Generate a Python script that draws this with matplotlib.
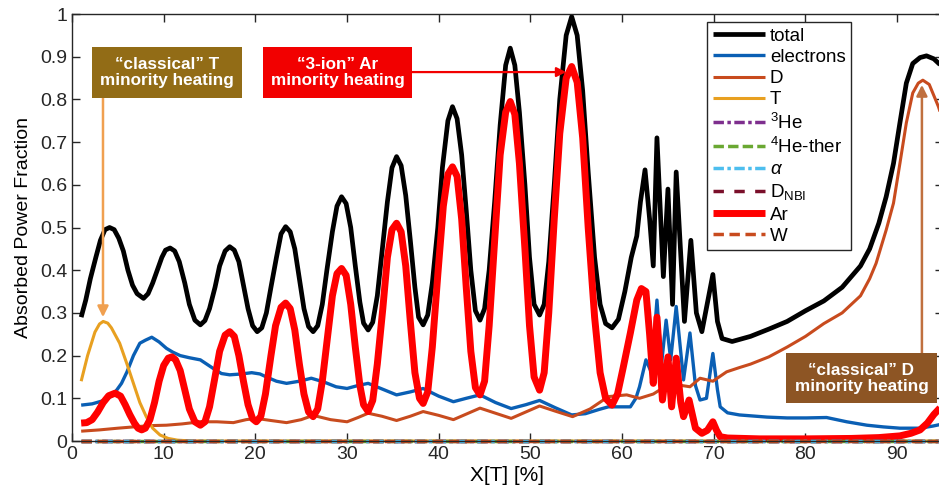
import matplotlib
matplotlib.use("Agg")
import matplotlib.pyplot as plt
from matplotlib.patches import Rectangle

plt.rcParams['font.family'] = ['Liberation Sans', 'DejaVu Sans']
plt.rcParams['mathtext.fontset'] = 'custom'
plt.rcParams['mathtext.rm'] = 'Liberation Sans'
plt.rcParams['mathtext.it'] = 'Liberation Sans:italic'
plt.rcParams['mathtext.bf'] = 'Liberation Sans:bold'

# total absorbed power
total_x = [1.0, 1.5, 2.0, 2.6, 3.1, 3.6, 4.1, 4.6, 5.1, 5.6, 6.1, 6.6, 7.1, 7.8,
           8.3, 8.8, 9.3, 9.8, 10.2, 10.7, 11.2, 11.7, 12.3, 12.8, 13.4, 14.0,
           14.5, 15.0, 15.6, 16.1, 16.7, 17.2, 17.7, 18.2, 18.7, 19.2, 19.7, 20.2,
           20.7, 21.2, 21.7, 22.3, 22.8, 23.3, 23.8, 24.3, 24.8, 25.3, 25.8, 26.3,
           26.8, 27.3, 27.8, 28.4, 28.9, 29.4, 29.9, 30.4, 30.9, 31.4, 31.8, 32.3,
           32.8, 33.3, 33.8, 34.4, 34.9, 35.4, 35.9, 36.4, 36.9, 37.4, 37.8, 38.3,
           38.8, 39.3, 39.9, 40.4, 41.0, 41.5, 42.0, 42.5, 43.0, 43.5, 44.0, 44.5,
           45.0, 45.5, 46.1, 46.7, 47.3, 47.8, 48.3, 48.8, 49.4, 49.9, 50.4, 51.0,
           51.5, 52.0, 52.6, 53.2, 53.9, 54.5, 55.1, 55.7, 56.3, 57.0, 57.6, 58.2, 58.9,
           59.6, 60.3, 61.0, 61.6, 62.0, 62.5, 63.0, 63.4, 63.8, 64.5, 65.0, 65.5, 65.9,
           66.8, 67.5, 68.1, 68.7, 69.9, 70.4, 70.9, 72.0, 74.0, 76.0, 78.0, 80.0,
           82.0, 84.0, 85.0, 86.0, 87.0, 88.0, 88.8, 89.6, 90.3, 91.0, 91.7, 92.5, 93.2, 94.0, 95.0]
total_y = [0.29, 0.33, 0.38, 0.43, 0.47, 0.495, 0.50, 0.495, 0.475, 0.445, 0.40, 0.365, 0.345, 0.334,
           0.345, 0.37, 0.40, 0.43, 0.447, 0.452, 0.445, 0.42, 0.37, 0.32, 0.283, 0.272,
           0.282, 0.31, 0.36, 0.41, 0.445, 0.455, 0.447, 0.42, 0.365, 0.31, 0.27, 0.256,
           0.265, 0.30, 0.36, 0.43, 0.485, 0.502, 0.49, 0.45, 0.38, 0.31, 0.268, 0.256,
           0.27, 0.32, 0.40, 0.49, 0.55, 0.572, 0.556, 0.50, 0.41, 0.325, 0.276, 0.26,
           0.278, 0.34, 0.44, 0.56, 0.64, 0.666, 0.645, 0.575, 0.47, 0.36, 0.29, 0.272,
           0.295, 0.37, 0.50, 0.64, 0.75, 0.783, 0.755, 0.67, 0.54, 0.40, 0.305, 0.283,
           0.31, 0.40, 0.56, 0.74, 0.88, 0.92, 0.88, 0.77, 0.60, 0.43, 0.32, 0.295,
           0.32, 0.42, 0.60, 0.80, 0.95, 0.994, 0.95, 0.82, 0.63, 0.43, 0.32, 0.275, 0.265,
           0.285, 0.35, 0.43, 0.48, 0.56, 0.635, 0.52, 0.41, 0.71, 0.385, 0.59, 0.32, 0.63,
           0.28, 0.47, 0.30, 0.256, 0.39, 0.28, 0.24, 0.233, 0.245, 0.262, 0.28, 0.305,
           0.328, 0.36, 0.385, 0.41, 0.45, 0.51, 0.572, 0.65, 0.745, 0.838, 0.884, 0.898, 0.902, 0.895, 0.875]

# electrons
el_x = [1.0, 2.2, 3.5, 4.3, 4.9, 5.4, 6.0, 6.7, 7.4, 8.0, 8.7, 9.5, 10.3, 11.0, 11.8, 12.8, 14.0, 15.4, 16.3,
        17.2, 18.5, 19.6, 20.5, 21.2, 22.3, 23.4, 24.8, 26.1, 27.5, 28.8, 30.0, 31.2, 32.3, 33.8, 35.4,
        36.9, 38.3, 40.0, 41.6, 43.0, 44.5, 46.2, 47.9, 49.5, 51.0, 52.7, 54.5, 56.0, 57.5, 58.5, 60.9,
        61.5, 61.9, 62.6, 63.2, 63.8, 64.3, 64.8, 65.3, 65.9, 66.7, 67.4, 68.0, 68.5, 69.2, 69.9, 70.4,
        70.7, 71.5, 72.8, 75.8, 78.0, 80.1, 82.3, 84.5, 86.7, 88.5, 90.3, 92.5, 93.9, 95.0]
el_y = [0.084, 0.087, 0.095, 0.105, 0.12, 0.135, 0.162, 0.2, 0.229, 0.236, 0.243, 0.232, 0.217, 0.208, 0.2, 0.195, 0.19, 0.17, 0.158,
        0.155, 0.157, 0.16, 0.157, 0.15, 0.14, 0.135, 0.14, 0.147, 0.138, 0.127, 0.123, 0.13, 0.135, 0.122, 0.108,
        0.115, 0.123, 0.105, 0.092, 0.1, 0.108, 0.09, 0.076, 0.085, 0.095, 0.078, 0.061, 0.064, 0.074, 0.08, 0.08,
        0.1, 0.127, 0.19, 0.16, 0.33, 0.18, 0.283, 0.19, 0.315, 0.143, 0.253, 0.13, 0.096, 0.1, 0.205, 0.12,
        0.08, 0.066, 0.061, 0.056, 0.054, 0.054, 0.055, 0.045, 0.037, 0.033, 0.03, 0.03, 0.035, 0.04]

# D
d_x = [1.0, 3.0, 5.0, 6.7, 8.5, 10.3, 12.0, 14.0, 15.8, 17.6, 19.0, 20.1, 21.7, 23.4, 25.0, 26.3, 28.2, 30.0,
       31.2, 32.3, 33.8, 35.4, 36.9, 38.3, 40.0, 41.6, 43.0, 44.5, 46.2, 47.9, 49.5, 51.0, 52.7, 54.6, 56.5,
       58.5, 60.5, 61.9, 63.4, 64.5, 65.6, 66.5, 67.4, 68.5, 69.9, 71.4, 72.8, 74.0, 76.0, 78.0, 80.0, 82.0,
       84.0, 85.0, 86.0, 87.0, 87.7, 88.8, 89.6, 90.3, 91.0, 91.7, 92.3, 92.8, 93.5, 94.5, 95.0]
d_y = [0.023, 0.026, 0.03, 0.033, 0.036, 0.037, 0.04, 0.045, 0.045, 0.043, 0.05, 0.053, 0.048, 0.043, 0.05, 0.06, 0.05, 0.045,
       0.055, 0.065, 0.058, 0.048, 0.058, 0.069, 0.06, 0.05, 0.063, 0.077, 0.065, 0.053, 0.068, 0.082, 0.07, 0.057, 0.075,
       0.104, 0.108, 0.1, 0.11, 0.125, 0.135, 0.13, 0.127, 0.147, 0.14, 0.162, 0.172, 0.18, 0.197, 0.22, 0.245, 0.275,
       0.3, 0.32, 0.34, 0.38, 0.416, 0.494, 0.557, 0.65, 0.745, 0.815, 0.838, 0.845, 0.835, 0.783, 0.75]

# T
t_x = [1.0, 1.7, 2.5, 3.0, 3.4, 3.9, 4.3, 5.2, 6.0, 6.7, 7.4, 8.1, 8.8, 9.6, 10.5, 11.5, 13.0, 95.0]
t_y = [0.14, 0.2, 0.255, 0.274, 0.28, 0.276, 0.265, 0.229, 0.18, 0.135, 0.09, 0.057, 0.03, 0.014, 0.006, 0.002, 0.0, 0.0]

# Ar
ar_x = [1.0, 1.6, 2.2, 2.8, 3.4, 4.0, 4.7, 5.3, 5.8, 6.3, 6.8, 7.2, 7.6,
        8.0, 8.5, 9.0, 9.5, 10.0, 10.5, 10.9, 11.3, 11.8, 12.3, 12.8, 13.4, 14.0,
        14.5, 15.0, 15.6, 16.1, 16.7, 17.2, 17.7, 18.2, 18.7, 19.2, 19.7, 20.1,
        20.6, 21.1, 21.7, 22.2, 22.8, 23.3, 23.8, 24.3, 24.8, 25.3, 25.8, 26.3,
        26.8, 27.3, 27.9, 28.4, 28.9, 29.4, 29.9, 30.4, 30.9, 31.4, 31.8, 32.3,
        32.8, 33.3, 33.9, 34.4, 34.9, 35.4, 35.9, 36.4, 36.9, 37.4, 37.9, 38.3,
        38.8, 39.3, 39.9, 40.5, 41.0, 41.5, 42.0, 42.5, 43.0, 43.5, 44.0, 44.5,
        45.0, 45.5, 46.1, 46.7, 47.3, 47.8, 48.3, 48.8, 49.4, 49.9, 50.4, 51.0,
        51.5, 52.0, 52.6, 53.2, 53.9, 54.5, 55.1, 55.7, 56.3, 57.0, 57.6, 58.2, 58.9,
        59.5, 60.1, 60.9, 61.6, 62.1, 62.6, 63.0, 63.4, 63.8, 64.4, 65.0, 65.4, 65.9, 66.4,
        66.7, 67.3, 68.0, 68.7, 69.3, 69.9, 70.3, 70.7, 71.5, 75.0, 80.0, 85.0, 88.0, 90.3,
        91.5, 92.5, 93.3, 94.0, 95.0]
ar_y = [0.042, 0.043, 0.05, 0.068, 0.09, 0.106, 0.112, 0.105, 0.085, 0.062, 0.042, 0.03, 0.026,
        0.03, 0.05, 0.09, 0.14, 0.177, 0.194, 0.197, 0.19, 0.165, 0.12, 0.075, 0.045, 0.037,
        0.045, 0.08, 0.15, 0.21, 0.248, 0.256, 0.245, 0.2, 0.14, 0.085, 0.052, 0.045,
        0.058, 0.11, 0.2, 0.27, 0.313, 0.323, 0.31, 0.26, 0.18, 0.11, 0.068, 0.057,
        0.075, 0.14, 0.25, 0.34, 0.392, 0.404, 0.388, 0.32, 0.22, 0.13, 0.085, 0.069,
        0.095, 0.18, 0.31, 0.43, 0.495, 0.51, 0.49, 0.41, 0.28, 0.16, 0.1, 0.088,
        0.115, 0.22, 0.39, 0.55, 0.625, 0.642, 0.62, 0.52, 0.36, 0.21, 0.125, 0.108,
        0.14, 0.27, 0.47, 0.67, 0.77, 0.795, 0.765, 0.65, 0.45, 0.27, 0.15, 0.119,
        0.16, 0.3, 0.52, 0.72, 0.85, 0.877, 0.84, 0.71, 0.5, 0.29, 0.16, 0.1, 0.084,
        0.11, 0.17, 0.253, 0.33, 0.357, 0.35, 0.25, 0.135, 0.29, 0.096, 0.197, 0.08, 0.194, 0.09,
        0.057, 0.096, 0.03, 0.018, 0.025, 0.045, 0.025, 0.01, 0.007, 0.005, 0.005, 0.006, 0.008, 0.012,
        0.018, 0.026, 0.042, 0.062, 0.085]

# species with no absorption
zero_x = [1.0, 95.0]
zero_y = [0.0, 0.0]

yticks = [0, 0.1, 0.2, 0.3, 0.4, 0.5, 0.6, 0.7, 0.8, 0.9, 1]
ytick_labels = ['0', '0.1', '0.2', '0.3', '0.4', '0.5', '0.6', '0.7', '0.8', '0.9', '1']
xticks = [0, 10, 20, 30, 40, 50, 60, 70, 80, 90]

fig = plt.figure(figsize=(9.39, 4.97), dpi=100)
ax = fig.add_axes([72/939, 56/497, 871/939, 427/497])

rnd = dict(solid_joinstyle='round', solid_capstyle='butt')
ax.plot(total_x, total_y, color='black', lw=3.4, label='total', **rnd)
ax.plot(el_x, el_y, color='#0a5fb4', lw=2.4, label='electrons', **rnd)
ax.plot(d_x, d_y, color='#c84b1e', lw=2.2, label='D', **rnd)
ax.plot(t_x, t_y, color='#e8a020', lw=2.2, label='T', clip_on=False, **rnd)
ax.plot(zero_x, zero_y, color='#7e2f8e', lw=2.5, ls=(0, (3, 1, 1, 1)), label=r'$^{3}$He', clip_on=False, zorder=2.1)
ax.plot(zero_x, zero_y, color='#6aa832', lw=2.5, ls=(0, (3, 1.2)), label=r'$^{4}$He-ther', clip_on=False, zorder=2.2)
ax.plot(zero_x, zero_y, color='#4dbeee', lw=2.5, ls=(0, (3, 1, 1, 1)), label=r'$\alpha$', clip_on=False, zorder=2.4)
ax.plot(zero_x, zero_y, color='#7a0f2a', lw=2.5, ls=(0, (3, 3)), label=r'D$_{\rm NBI}$', clip_on=False, zorder=2.3)
ax.plot(ar_x, ar_y, color='#ff0000', lw=5.0, label='Ar', **rnd)
ax.plot(zero_x, zero_y, color='#c84b1e', lw=2.5, ls=(0, (3, 1.6)), label='W', clip_on=False, zorder=2.5)

ax.set_xlim(0, 95)
ax.set_ylim(0, 1)
ax.set_xticks(xticks)
ax.set_yticks(yticks)
ax.set_yticklabels(ytick_labels)
ax.tick_params(direction='in', top=True, right=True, length=6, width=1, labelsize=14, colors='#262626')
for sp in ax.spines.values():
    sp.set_linewidth(1.0)
    sp.set_color('#262626')
ax.set_xlabel('X[T] [%]', fontsize=15, labelpad=2)
ax.set_ylabel('Absorbed Power Fraction', fontsize=14, labelpad=6)

leg = ax.legend(loc='upper left', bbox_to_anchor=(707/939, 1 - 22/497), bbox_transform=fig.transFigure,
                fontsize=13.5, frameon=True, fancybox=False, edgecolor='#262626', framealpha=1,
                borderaxespad=0, borderpad=0.3, labelspacing=0.22, handlelength=2.8, handletextpad=0.25)
leg.get_frame().set_linewidth(1.0)

# annotation boxes
box_t = Rectangle((2.18, 0.803), 16.36, 0.120, facecolor='#926c16', edgecolor='none', zorder=6)
box_ar = Rectangle((20.85, 0.803), 16.25, 0.120, facecolor='#f20000', edgecolor='none', zorder=6)
box_d = Rectangle((77.9, 0.088), 16.4, 0.117, facecolor='#8d5524', edgecolor='none', zorder=6)
for b in [box_t, box_ar, box_d]:
    ax.add_patch(b)

ax.text(10.36, 0.863, '\u201cclassical\u201d T\nminority heating', color='white', fontsize=12.3,
        fontweight='bold', ha='center', va='center', linespacing=1.1, zorder=7)
ax.text(28.97, 0.863, '\u201c3-ion\u201d Ar\nminority heating', color='white', fontsize=12.3,
        fontweight='bold', ha='center', va='center', linespacing=1.1, zorder=7)
ax.text(86.1, 0.1465, '\u201cclassical\u201d D\nminority heating', color='white', fontsize=12.3,
        fontweight='bold', ha='center', va='center', linespacing=1.1, zorder=7)

# arrows
ax.annotate('', xy=(3.38, 0.29), xytext=(3.38, 0.803),
            arrowprops=dict(arrowstyle='-|>', color='#f0a050', lw=1.8, mutation_scale=16, shrinkA=0, shrinkB=0),
            zorder=5)
ax.annotate('', xy=(53.9, 0.864), xytext=(37.1, 0.864),
            arrowprops=dict(arrowstyle='-|>', color='#f20000', lw=1.6, mutation_scale=14, shrinkA=0, shrinkB=0),
            zorder=5)
ax.annotate('', xy=(92.7, 0.834), xytext=(92.7, 0.205),
            arrowprops=dict(arrowstyle='-|>', color='#c0703f', lw=1.8, mutation_scale=16, shrinkA=0, shrinkB=0),
            zorder=5)

fig.savefig('out.png', dpi=100)
